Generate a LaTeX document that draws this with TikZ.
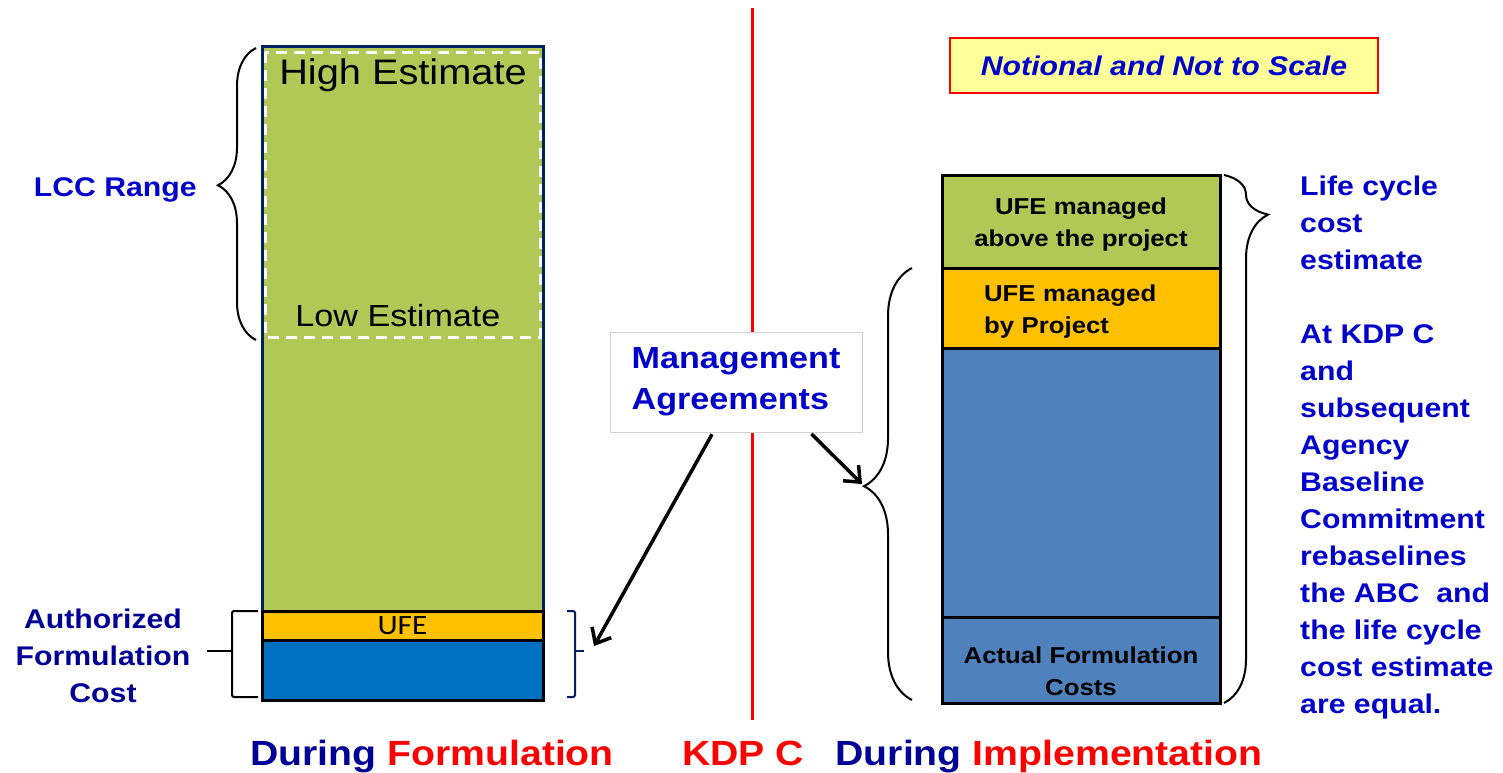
\documentclass[tikz,border=0pt]{standalone}
\usepackage{fontspec}
\setmainfont{Liberation Sans}[FakeStretch=1.12]
\newfontfamily\ufefont{Carlito}[FakeStretch=1.12]
\usetikzlibrary{arrows.meta,positioning,decorations.pathreplacing}

\definecolor{barGreen}{RGB}{178,200,86}
\definecolor{barYellow}{RGB}{255,192,0}
\definecolor{formBlue}{RGB}{0,112,192}
\definecolor{implBlue}{RGB}{79,129,189}
\definecolor{navy}{RGB}{0,32,96}
\definecolor{txtBlue}{RGB}{0,0,204}
\definecolor{darkBlue}{RGB}{0,0,150}
\definecolor{noteYellow}{RGB}{255,255,153}

\tikzset{
  bar/.style={draw=black, line width=3pt, inner sep=0pt},
  lbar/.style={bar, minimum width=281pt},
  rbar/.style={bar, minimum width=278pt},
  inbar/.style={align=center, font=\fontsize{23}{32}\selectfont\bfseries},
  lbl/.style={inner sep=0pt, font=\fontsize{27}{37}\selectfont\bfseries},
  title/.style={inner sep=0pt, font=\fontsize{35}{40}\selectfont\bfseries},
  brc/.style={decorate, line width=2pt},
  arr/.style={draw, -{Straight Barb[length=13pt,width=22pt]}, line width=3.5pt, shorten <=2pt}
}

\begin{document}
\begin{tikzpicture}[x=1pt,y=-1pt]
  \useasboundingbox (0,0) rectangle (1503,772);

  % during formulation
  \node[lbar, draw=navy, fill=barGreen, minimum height=654pt] (lcc) at (402.5,373) {};
  \draw[white, line width=3pt, dash pattern=on 11pt off 7pt] (265,52) rectangle (540,337);
  \node[anchor=base, inner sep=0pt, font=\fontsize{35.5}{40}\selectfont] (high) at (403,84.5) {High Estimate};
  \node[anchor=base, inner sep=0pt, font=\fontsize{30.5}{36}\selectfont] (low) at (398,326.5) {Low Estimate};
  \node[lbar, fill=barYellow, minimum height=29pt, font=\ufefont\fontsize{28}{28}\selectfont] (lufe) at (402.5,625.5) {UFE};
  \node[lbar, fill=formBlue, minimum height=60pt] (lform) at (402.5,670) {};

  \draw[brc, decoration={brace, amplitude=38pt, aspect=0.53}] (256,340) -- (256,48);
  \node[lbl, text=txtBlue, anchor=base east] (lccrange) at (197,196) {LCC Range};

  \draw[line width=2pt, rounded corners=2pt] (258,611) -- (232,611) -- (232,697) -- (258,697);
  \draw[line width=2pt] (232,651) -- (207,651);
  \node[lbl, text=darkBlue, align=center, anchor=north] (authcost) at (103,609) {Authorized\\Formulation\\Cost};

  \draw[navy, line width=2pt, rounded corners=2pt] (567,611) -- (575,611) -- (575,697) -- (567,697);
  \draw[navy, line width=2pt] (575,651) -- (584,651);
  \coordinate (fbr) at (594,646);

  % kdp c
  \draw[red, line width=3pt] (752,8) -- (752,720);
  \node[draw=black!18, line width=1pt, fill=white, minimum width=252pt, minimum height=100pt,
        align=left, text=txtBlue, font=\fontsize{30.5}{41}\selectfont\bfseries] (mgmt) at (736,382)
        {Management\\Agreements};

  % during implementation
  \node[rbar, fill=barGreen, minimum height=93pt] (rabove) at (1081,221.5) {};
  \node[inbar] (abovetxt) at ([yshift=-3pt]rabove.center) {UFE managed\\above the project};
  \node[rbar, fill=barYellow, minimum height=80pt] (rproj) at (1081,308) {};
  \node[inbar, align=left, text width=194pt] (projtxt) at ([yshift=-4pt]rproj.center) {UFE managed\\by Project};
  \node[rbar, fill=implBlue, minimum height=269pt] (rimpl) at (1081,482.5) {};
  \node[rbar, fill=implBlue, minimum height=86pt] (ractual) at (1081,660) {};
  \node[inbar] (actual) at ([yshift=-11pt]ractual.center) {Actual Formulation\\Costs};

  \draw[brc, decoration={brace, amplitude=48pt, aspect=0.495}] (912,700) -- (912,268);
  \coordinate (ibr) at (862,484);
  \draw[brc, decoration={brace, amplitude=44pt, aspect=0.075}] (1224,175) -- (1224,703);

  \node[draw=red, line width=2pt, fill=noteYellow, minimum width=428pt, minimum height=55pt,
        text=txtBlue, font=\fontsize{27}{32}\selectfont\bfseries\itshape] (note) at (1164,65.5)
        {Notional and Not to Scale};

  \node[lbl, text=txtBlue, align=left, anchor=north west] (lcctext) at (1300,176)
    {Life cycle\\cost\\estimate\\[37pt]At KDP C\\and\\subsequent\\Agency\\Baseline\\Commitment\\rebaselines\\the ABC\ \ and\\the life cycle\\cost estimate\\are equal.};

  % titles
  \node[title, anchor=base] (durform) at (432,765) {\textcolor{darkBlue}{During} \textcolor{red}{Formulation}};
  \node[title, text=red, anchor=base] (kdpc) at (743,765) {KDP C};
  \node[title, anchor=base] (durimpl) at (1049,765) {\textcolor{darkBlue}{During} \textcolor{red}{Implementation}};

  \path
    ([xshift=-23pt]mgmt.south) edge[arr] (fbr)
    ([xshift=74pt]mgmt.south)  edge[arr] (ibr);
\end{tikzpicture}
\end{document}
